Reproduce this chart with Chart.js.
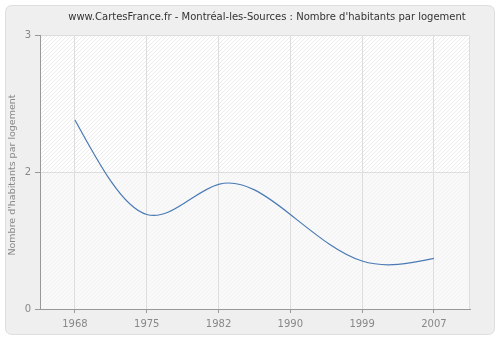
<!DOCTYPE html>
<html>
<head>
<meta charset="utf-8">
<script src="https://cdn.jsdelivr.net/npm/chart.js@4.4.1/dist/chart.umd.min.js"></script>
<style>
  html, body { margin: 0; padding: 0; background: #fff; }
  #wrap { width: 500px; height: 340px; }
</style>
</head>
<body>
<div id="wrap"><canvas id="chart" width="500" height="340"></canvas></div>
<script>
(function() {
	"use strict";

	var TITLE = "www.CartesFrance.fr - Montréal-les-Sources : Nombre d'habitants par logement";
	var Y_TITLE = "Nombre d'habitants par logement";

	var years = ["1968", "1975", "1982", "1990", "1999", "2007"];
	var habParLogement = [2.38, 1.69, 1.91, 1.69, 1.35, 1.37];
	var yTicks = [1, 2, 3];
	var yTickLabels = ["0", "2", "3"];

	var FONT = "'DejaVu Sans', Verdana, sans-serif";
	var LINE_COLOR = "#4a7ab5";

	// panel, hatched plot background and texts
	var decor = {
		id: "decor",
		beforeDraw: function(chart) {
			var c = chart.ctx, a = chart.chartArea;
			c.save();
			c.fillStyle = "#ffffff";
			c.fillRect(0, 0, chart.width, chart.height);

			c.beginPath();
			c.roundRect(5.5, 5.5, 489, 329, 6);
			c.fillStyle = "#efefef";
			c.fill();
			c.strokeStyle = "#dedede";
			c.lineWidth = 1;
			c.stroke();

			var y2 = chart.scales.y.getPixelForValue(2);
			c.fillStyle = "#ffffff";
			c.fillRect(a.left, a.top, a.right - a.left, a.bottom - a.top);

			c.beginPath();
			c.rect(a.left, a.top, a.right - a.left, a.bottom - a.top);
			c.clip();
			c.lineWidth = 1;
			var h = a.bottom - a.top;
			for (var x = a.left - h; x < a.right + 4; x += 4) {
				c.beginPath();
				c.moveTo(x, a.bottom);
				c.lineTo(x + h, a.top);
				c.strokeStyle = "rgba(205,205,205,0.38)";
				c.stroke();
			}
			c.fillStyle = "rgba(247,247,247,0.7)";
			c.fillRect(a.left, y2, a.right - a.left, a.bottom - y2);
			c.restore();

			c.save();
			c.strokeStyle = "#dddddd";
			c.lineWidth = 1;
			c.beginPath();
			c.moveTo(a.left, a.top + 0.5);
			c.lineTo(a.right - 0.5, a.top + 0.5);
			c.lineTo(a.right - 0.5, a.bottom);
			c.stroke();

			c.fillStyle = "#333333";
			c.font = "10px " + FONT;
			c.textAlign = "center";
			c.textBaseline = "middle";
			c.fillText(TITLE, 267, 17);

			c.fillStyle = "#888888";
			c.font = "9.5px " + FONT;
			c.translate(13, (a.top + a.bottom) / 2 + 3);
			c.rotate(-Math.PI / 2);
			c.fillText(Y_TITLE, 0, 0);
			c.restore();
		}
	};

	// natural cubic spline through the dataset's points, drawn as bezier segments
	var splineLine = {
		id: "splineLine",
		afterDatasetsDraw: function(chart) {
			var pts = chart.getDatasetMeta(0).data;
			var n = pts.length - 1;
			if (n < 1) return;
			var xs = [], ys = [], h = [], i;
			for (i = 0; i <= n; i++) { xs.push(pts[i].x); ys.push(pts[i].y); }
			for (i = 0; i < n; i++) h.push(xs[i + 1] - xs[i]);

			// tridiagonal solve for second derivatives, M0 = Mn = 0
			var M = new Array(n + 1).fill(0);
			var cp = [], dp = [];
			for (i = 1; i < n; i++) {
				var a = h[i - 1], b = 2 * (h[i - 1] + h[i]), cc = h[i];
				var r = 6 * ((ys[i + 1] - ys[i]) / h[i] - (ys[i] - ys[i - 1]) / h[i - 1]);
				if (i > 1) {
					b -= a * cp[i - 1];
					r -= a * dp[i - 1];
				}
				cp[i] = cc / b;
				dp[i] = r / b;
			}
			for (i = n - 1; i >= 1; i--) M[i] = dp[i] - cp[i] * M[i + 1];

			var D = [];
			for (i = 0; i < n; i++) D[i] = (ys[i + 1] - ys[i]) / h[i] - h[i] * (2 * M[i] + M[i + 1]) / 6;
			D[n] = (ys[n] - ys[n - 1]) / h[n - 1] + h[n - 1] * (M[n - 1] + 2 * M[n]) / 6;

			var c = chart.ctx, ar = chart.chartArea;
			c.save();
			c.beginPath();
			c.rect(ar.left, ar.top, ar.right - ar.left, ar.bottom - ar.top);
			c.clip();
			c.beginPath();
			c.moveTo(xs[0], ys[0]);
			for (i = 0; i < n; i++) {
				c.bezierCurveTo(
					xs[i] + h[i] / 3, ys[i] + D[i] * h[i] / 3,
					xs[i + 1] - h[i] / 3, ys[i + 1] - D[i + 1] * h[i] / 3,
					xs[i + 1], ys[i + 1]
				);
			}
			c.strokeStyle = LINE_COLOR;
			c.lineWidth = 1.2;
			c.lineJoin = "round";
			c.stroke();
			c.restore();
		}
	};

	document.addEventListener("DOMContentLoaded", function() {
		var ctx = document.getElementById("chart").getContext("2d");

		new Chart(ctx, {
			type: "line",
			data: {
				datasets: [{
					data: habParLogement.map(function(v, i) { return { x: i, y: v }; }),
					borderColor: LINE_COLOR,
					showLine: false,
					pointRadius: 0,
					fill: false
				}]
			},
			options: {
				responsive: false,
				animation: false,
				events: [],
				layout: { padding: { top: 35, right: 30, bottom: 0, left: 0 } },
				plugins: {
					legend: { display: false },
					tooltip: { enabled: false },
					title: { display: false }
				},
				scales: {
					x: {
						type: "linear",
						min: -0.487,
						max: 5.503,
						afterFit: function(s) { s.height = 31; },
						afterBuildTicks: function(s) {
							s.ticks = years.map(function(y, i) { return { value: i }; });
						},
						ticks: {
							color: "#888888",
							font: { family: FONT, size: 10 },
							padding: 5,
							maxRotation: 0,
							callback: function(v) { return years[v]; }
						},
						grid: {
							color: "#dedede",
							borderDash: [5, 4],
							tickColor: "#999999",
							tickBorderDash: [],
							tickLength: 4
						},
						border: { display: true, color: "#999999", width: 1 }
					},
					y: {
						min: 1,
						max: 3,
						afterFit: function(s) { s.width = 40; },
						afterBuildTicks: function(s) {
							s.ticks = yTicks.map(function(v) { return { value: v }; });
						},
						ticks: {
							color: "#888888",
							font: { family: FONT, size: 10 },
							padding: 4,
							callback: function(v) { return yTickLabels[yTicks.indexOf(v)]; }
						},
						grid: {
							color: function(c) { return c.tick && c.tick.value === 2 ? "#dedede" : "rgba(0,0,0,0)"; },
							borderDash: [5, 4],
							tickColor: "#999999",
							tickBorderDash: [],
							tickLength: 5
						},
						border: { display: true, color: "#999999", width: 1 }
					}
				}
			},
			plugins: [decor, splineLine]
		});
	});
})();
</script>
</body>
</html>
